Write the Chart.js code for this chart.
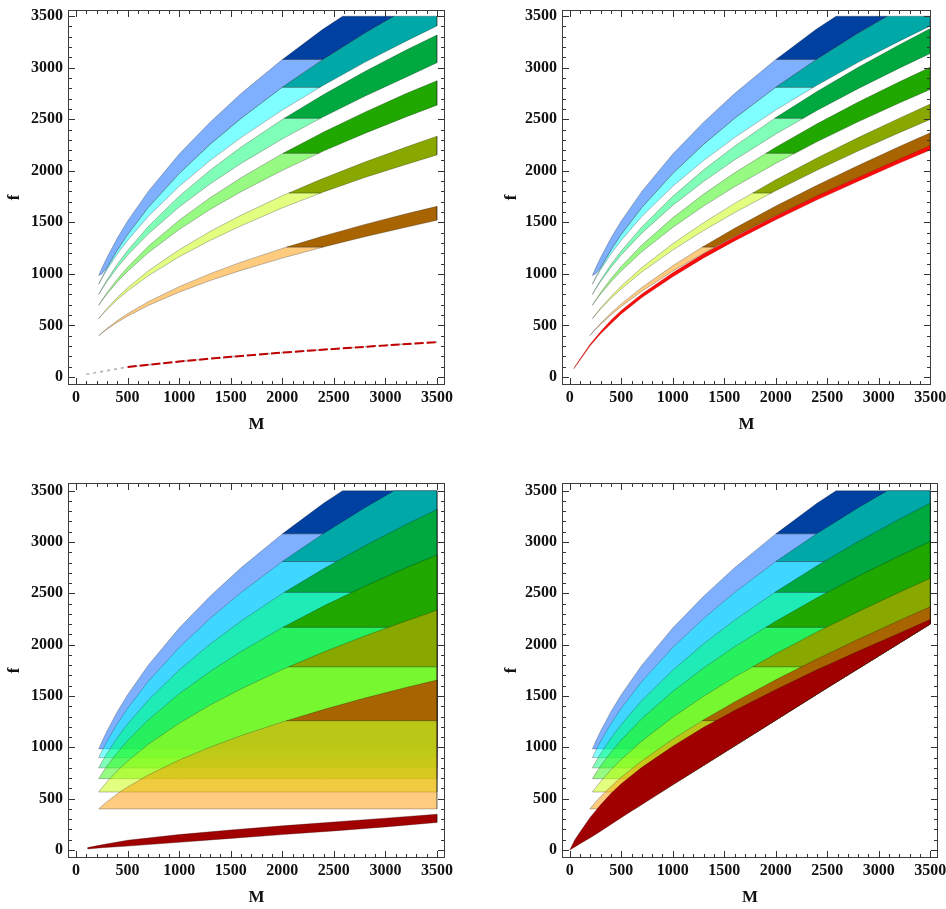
<!DOCTYPE html>
<html><head><meta charset="utf-8">
<script src="https://cdn.jsdelivr.net/npm/chart.js@4.4.1/dist/chart.umd.min.js"></script>
<style>
html,body{margin:0;padding:0;background:#fff;overflow:hidden;width:946px;height:909px;position:relative;}
canvas{position:absolute;}
</style>
</head><body>
<script>
// ================= DATA =================
const majorTicks = [0, 500, 1000, 1500, 2000, 2500, 3000, 3500];
const tickLabels = ['0', '500', '1000', '1500', '2000', '2500', '3000', '3500'];
const fCap = 3500;   // upper f limit of the plotted regions
const mMax = 3500;   // upper M limit of the plotted regions
// band order: blue, cyan, light green, green, yellow, orange
const bandCuts = [3080, 2810, 2510, 2170, 1785, 1260];

// shared by all four panels
const blueUpper = [[220,985],[250,1054],[300,1159],[400,1347],[500,1513],[700,1800],[1000,2162],[1300,2472],[1600,2749],[2000,3079],[2400,3378],[2585,3500]];
const blueLower = [[220,985],[250,1000],[300,1060],[400,1230],[500,1381],[700,1643],[1000,1973],[1300,2256],[1600,2508],[2000,2810],[2400,3083],[2800,3334],[3085,3500]];
const cyanUpper = [[220,900],[250,963],[300,1059],[400,1230],[500,1381],[700,1643],[1000,1973],[1300,2256],[1600,2508],[2000,2810],[2400,3083],[2800,3334],[3085,3500]];
const cyanLower = [[220,900],[250,955],[300,1041],[400,1192],[500,1325],[700,1557],[1000,1849],[1300,2099],[1600,2322],[2000,2589],[2400,2830],[2800,3052],[3200,3258],[3500,3405]];

// left panels
const lgreenUpperL = [[220,800],[250,856],[300,941],[400,1094],[500,1228],[700,1460],[1000,1754],[1300,2006],[1600,2230],[2000,2498],[2400,2740],[2800,2963],[3200,3171],[3500,3318]];
const lgreenLowerL = [[220,800],[250,849],[300,926],[400,1061],[500,1180],[700,1387],[1000,1648],[1300,1872],[1600,2071],[2000,2309],[2400,2525],[2800,2723],[3200,2908],[3500,3048]];
const greenUpperL = [[220,695],[250,743],[300,818],[400,949],[500,1065],[700,1267],[1000,1521],[1300,1739],[1600,1933],[2000,2166],[2400,2376],[2800,2569],[3200,2749],[3500,2874]];
const greenLowerL = [[220,695],[250,738],[300,804],[400,921],[500,1025],[700,1204],[1000,1430],[1300,1625],[1600,1797],[2000,2004],[2400,2191],[2800,2363],[3200,2523],[3500,2637]];
const yellowUpperL = [[220,565],[250,604],[300,664],[400,771],[500,865],[700,1029],[1000,1234],[1300,1412],[1600,1569],[2000,1758],[2400,1928],[2800,2085],[3200,2230],[3500,2336]];
const yellowLowerL = [[220,565],[250,600],[300,654],[400,750],[500,834],[700,981],[1000,1166],[1300,1325],[1600,1466],[2000,1640],[2400,1795],[2800,1935],[3200,2062],[3500,2153]];
const orangeUpperL = [[220,400],[250,428],[300,471],[400,547],[500,613],[700,730],[1000,876],[1300,1002],[1600,1114],[2000,1247],[2400,1368],[2800,1480],[3200,1583],[3500,1655]];
const orangeLowerL = [[220,400],[250,425],[300,463],[400,530],[500,590],[700,693],[1000,823],[1300,935],[1600,1034],[2000,1153],[2400,1261],[2800,1360],[3200,1452],[3500,1520]];
const redLineTL = [[100,27],[250,52],[500,97],[1000,150],[1500,196],[2000,236],[2500,272],[3000,306],[3500,338]];
const redUpperBL = [[113,24],[250,50],[500,95],[1000,150],[1500,195],[2000,235],[2500,272],[3000,310],[3500,348]];
const redLowerBL = [[113,10],[250,22],[500,38],[1000,75],[1500,113],[2000,150],[2500,186],[3000,225],[3500,268]];

// right panels
const lgreenUpperR = [[220,800],[250,855],[300,939],[400,1090],[500,1223],[700,1456],[1000,1752],[1300,2009],[1600,2239],[2000,2516],[2400,2769],[2800,3004],[3200,3223],[3500,3380]];
const lgreenLowerR = [[220,800],[250,850],[300,926],[400,1063],[500,1184],[700,1395],[1000,1664],[1300,1896],[1600,2105],[2000,2356],[2400,2585],[2800,2797],[3200,2996],[3500,3138]];
const greenUpperR = [[220,695],[250,744],[300,819],[400,953],[500,1072],[700,1280],[1000,1544],[1300,1774],[1600,1980],[2000,2229],[2400,2456],[2800,2667],[3200,2864],[3500,3005]];
const greenLowerR = [[220,695],[250,738],[300,804],[400,923],[500,1029],[700,1214],[1000,1451],[1300,1658],[1600,1845],[2000,2072],[2400,2281],[2800,2475],[3200,2658],[3500,2789]];
const yellowUpperR = [[220,565],[250,605],[300,668],[400,781],[500,882],[700,1061],[1000,1293],[1300,1497],[1600,1684],[2000,1912],[2400,2124],[2800,2322],[3200,2511],[3500,2647]];
const yellowLowerR = [[220,565],[250,602],[300,659],[400,762],[500,854],[700,1018],[1000,1231],[1300,1421],[1600,1594],[2000,1807],[2400,2005],[2800,2192],[3200,2370],[3500,2498]];
const orangeUpperR = [[195,400],[220,431],[250,466],[300,520],[400,619],[500,709],[700,869],[1000,1079],[1300,1268],[1600,1442],[2000,1658],[2400,1860],[2800,2052],[3200,2236],[3500,2369]];
const orangeLowerR = [[195,400],[220,428],[250,460],[300,510],[400,601],[500,683],[700,831],[1000,1026],[1300,1201],[1600,1363],[2000,1565],[2400,1754],[2800,1934],[3200,2107],[3500,2233]];
const redUpperR = [[0,0],[50,100],[100,175],[200,320],[300,440],[400,550],[500,645],[700,805],[1000,1010],[1300,1195],[1600,1358],[2000,1562],[2400,1755],[2800,1936],[3200,2112],[3500,2245]];
const redLowerTR = [[40,80],[100,165],[200,305],[300,420],[500,612],[700,770],[1000,972],[1300,1155],[1600,1320],[2000,1525],[2400,1718],[2800,1899],[3200,2075],[3500,2203]];
const redLowerBR = [[0,0],[250,150],[500,315],[1000,635],[1500,950],[2000,1265],[2500,1580],[3000,1890],[3500,2201]];

// ================= STYLE =================
const lightColors = ['rgba(0,97,255,0.5)','rgba(0,255,255,0.5)','rgba(0,255,112,0.5)','rgba(48,245,8,0.5)','rgba(200,255,0,0.5)','rgba(255,152,0,0.5)'];
const darkColors = ['#0040a0','#00a8a8','#00a840','#20a800','#88a800','#a86400'];
const lightEdge = 'rgba(50,50,50,0.45)';
const darkEdge = 'rgba(0,0,0,0.35)';
const tickFont = {family: "'Liberation Serif', 'Times New Roman', serif", weight: 'bold', size: 16};
const titleFont = {family: "'Liberation Serif', 'Times New Roman', serif", weight: 'bold', size: 17};

// ================= GEOMETRY HELPERS =================
function interpAt(pts, x) {
  const n = pts.length;
  if (x <= pts[0][0]) return pts[0][1];
  if (x >= pts[n - 1][0]) return pts[n - 1][1];
  for (let i = 1; i < n; i++) {
    if (x <= pts[i][0]) {
      const [x0, y0] = pts[i - 1], [x1, y1] = pts[i];
      return y0 + (y1 - y0) * (x - x0) / (x1 - x0);
    }
  }
  return pts[n - 1][1];
}
const evalB = (bnd, x) => typeof bnd === 'number' ? bnd : interpAt(bnd, x);
// closed polygon of the region  max(los) < f < min(his)
function fillBetween(los, his) {
  const polys = [...los, ...his].filter(b => typeof b !== 'number');
  const a = Math.max(...polys.map(p => p[0][0]));
  const b = mMax;
  let xs = Array.from(new Set([a, b, ...polys.flatMap(p => p.map(q => q[0]))]))
    .filter(x => x >= a && x <= b).sort((p, q) => p - q);
  const insertZeros = f => {
    const out = [xs[0]];
    for (let i = 1; i < xs.length; i++) {
      const x0 = xs[i - 1], x1 = xs[i], f0 = f(x0), f1 = f(x1);
      if ((f0 < 0 && f1 > 0) || (f0 > 0 && f1 < 0)) out.push(x0 + (x1 - x0) * f0 / (f0 - f1));
      out.push(x1);
    }
    xs = out;
  };
  for (const set of [los, his])
    for (let i = 0; i < set.length; i++)
      for (let j = i + 1; j < set.length; j++)
        insertZeros(x => evalB(set[i], x) - evalB(set[j], x));
  const L = x => Math.max(...los.map(l => evalB(l, x)));
  const H = x => Math.min(...his.map(h => evalB(h, x)));
  insertZeros(x => H(x) - L(x));
  const eps = 1e-6;
  let i0 = xs.findIndex(x => H(x) - L(x) > eps);
  if (i0 < 0) return [];
  let i1 = xs.length - 1;
  while (H(xs[i1]) - L(xs[i1]) <= eps) i1--;
  i0 = Math.max(0, i0 - 1);
  i1 = Math.min(xs.length - 1, i1 + 1);
  const seg = xs.slice(i0, i1 + 1);
  const top = seg.map(x => ({x, y: H(x)}));
  const bottom = seg.slice().reverse().map(x => ({x, y: L(x)}));
  return top.concat(bottom, [top[0]]);
}
function regionDs(poly, fillColor, edge) {
  return {data: poly, fill: 'shape', backgroundColor: fillColor, borderColor: edge, borderWidth: 0.7,
          borderJoinStyle: 'round', pointRadius: 0, tension: 0};
}
function lineDs(pts, color, width, dash) {
  return {data: pts.map(([x, y]) => ({x, y})), fill: false, borderColor: color, borderWidth: width,
          borderDash: dash, pointRadius: 0, tension: 0};
}
// mode 'band': between lower and upper curves; mode 'floor': from the band's starting level up to the upper curve
function bandDatasets(bands, mode, floorCurve) {
  const ds = [];
  const extra = floorCurve ? [floorCurve] : [];
  bands.forEach((b, k) => {
    const lo = mode === 'band' ? b.L : b.U[0][1];
    ds.push(regionDs(fillBetween([lo, ...extra], [b.U, bandCuts[k]]), lightColors[k], lightEdge));
  });
  bands.forEach((b, k) => {
    const los = mode === 'band' ? [b.L, bandCuts[k]] : [bandCuts[k]];
    ds.push(regionDs(fillBetween([...los, ...extra], [b.U, fCap]), darkColors[k], darkEdge));
  });
  return ds;
}

const bandsLeft = [
  {U: blueUpper, L: blueLower}, {U: cyanUpper, L: cyanLower},
  {U: lgreenUpperL, L: lgreenLowerL}, {U: greenUpperL, L: greenLowerL},
  {U: yellowUpperL, L: yellowLowerL}, {U: orangeUpperL, L: orangeLowerL}];
const bandsRight = [
  {U: blueUpper, L: blueLower}, {U: cyanUpper, L: cyanLower},
  {U: lgreenUpperR, L: lgreenLowerR}, {U: greenUpperR, L: greenLowerR},
  {U: yellowUpperR, L: yellowLowerR}, {U: orangeUpperR, L: orangeLowerR}];

// ================= FRAME / TICKS PLUGIN =================
const minorTicks = [];
for (let i = 0; i < majorTicks.length - 1; i++) {
  const step = (majorTicks[i + 1] - majorTicks[i]) / 5;
  for (let j = 0; j < 5; j++) minorTicks.push(majorTicks[i] + j * step);
}
minorTicks.push(majorTicks[majorTicks.length - 1]);

const framePlugin = {
  id: 'frameTicks',
  afterDatasetsDraw(chart) {
    const {ctx, chartArea: a, scales: {x, y}} = chart;
    ctx.save();
    ctx.strokeStyle = '#333';
    ctx.lineWidth = 1;
    ctx.beginPath();
    for (const v of minorTicks) {
      const len = majorTicks.includes(v) ? 7 : 4;
      const px = Math.round(x.getPixelForValue(v)) + 0.5;
      ctx.moveTo(px, a.bottom); ctx.lineTo(px, a.bottom - len);
      ctx.moveTo(px, a.top); ctx.lineTo(px, a.top + len);
      const py = Math.round(y.getPixelForValue(v)) + 0.5;
      ctx.moveTo(a.left, py); ctx.lineTo(a.left + len, py);
      ctx.moveTo(a.right, py); ctx.lineTo(a.right - len, py);
    }
    ctx.stroke();
    ctx.strokeStyle = '#3c3c3c';
    ctx.strokeRect(a.left + 0.5, a.top + 0.5, a.right - a.left - 1, a.bottom - a.top - 1);
    ctx.restore();
  }
};

function makePanel(p, datasets) {
  datasets.forEach((d, i) => { d.order = datasets.length - i; });
  const cv = document.createElement('canvas');
  const padL = 70, padT = 20, padR = 30, axH = 55;
  cv.width = (p.R - p.L) + padL + padR;
  cv.height = (p.B - p.T) + padT + axH;
  cv.style.left = (p.L - padL) + 'px';
  cv.style.top = (p.T - padT) + 'px';
  document.body.appendChild(cv);
  new Chart(cv.getContext('2d'), {
    type: 'line',
    data: {datasets},
    options: {
      responsive: false, animation: false, events: [],
      layout: {padding: {left: 0, top: padT, right: padR, bottom: 0}},
      plugins: {legend: {display: false}, tooltip: {enabled: false}},
      scales: {
        x: {
          type: 'linear', min: p.xmin, max: p.xmax,
          afterFit: s => { s.height = axH; s.paddingLeft = 0; s.paddingRight = 0; },
          afterBuildTicks: s => { s.ticks = majorTicks.map(v => ({value: v})); },
          grid: {display: false, drawTicks: false}, border: {display: false},
          ticks: {padding: 3, font: tickFont, color: '#111', maxRotation: 0, autoSkip: false,
                  callback: v => tickLabels[majorTicks.indexOf(v)]},
          title: {display: true, text: 'M', font: titleFont, color: '#111', padding: {top: 0, bottom: 4.8}}
        },
        y: {
          type: 'linear', min: p.ymin, max: p.ymax,
          afterFit: s => { s.width = padL; s.paddingTop = 0; s.paddingBottom = 0; },
          afterBuildTicks: s => { s.ticks = majorTicks.map(v => ({value: v})); },
          grid: {display: false, drawTicks: false}, border: {display: false},
          ticks: {padding: 5, font: tickFont, color: '#111', autoSkip: false,
                  callback: v => tickLabels[majorTicks.indexOf(v)]},
          title: {display: true, text: 'f', font: titleFont, color: '#111', padding: {top: p.fPad, bottom: 0}}
        }
      }
    },
    plugins: [framePlugin]
  });
}

// ================= PANELS =================
// top-left
const ds1 = bandDatasets(bandsLeft, 'band');
ds1.push(lineDs(redLineTL, 'rgba(165,165,165,0.85)', 1.6, [3, 4]));
ds1.push(lineDs(redLineTL.filter(p => p[0] >= 500), '#c00000', 2, [9, 3]));
makePanel({L: 68, R: 445, T: 10, B: 385, xmin: -78, xmax: 3578, ymin: -78, ymax: 3560, fPad: 6.8}, ds1);

// top-right
const ds2 = bandDatasets(bandsRight, 'band');
ds2.push(regionDs(fillBetween([redLowerTR], [redUpperR]), '#ff0a0a', 'rgba(150,0,0,0.5)'));
makePanel({L: 562, R: 931, T: 10, B: 385, xmin: -75, xmax: 3507, ymin: -78, ymax: 3560, fPad: 9.8}, ds2);

// bottom-left
const ds3 = bandDatasets(bandsLeft, 'floor');
ds3.push(regionDs(fillBetween([redLowerBL], [redUpperBL]), '#a00000', 'rgba(60,0,0,0.5)'));
makePanel({L: 68, R: 445, T: 483, B: 858, xmin: -78, xmax: 3578, ymin: -78, ymax: 3575, fPad: 6.8}, ds3);

// bottom-right (all regions lie above the red region's lower edge)
const ds4 = bandDatasets(bandsRight, 'floor', redLowerBR);
ds4.push(regionDs(fillBetween([redLowerBR], [redUpperR]), '#a00000', 'rgba(60,0,0,0.5)'));
makePanel({L: 562, R: 938, T: 483, B: 858, xmin: -75, xmax: 3575, ymin: -78, ymax: 3575, fPad: 9.8}, ds4);
</script>
</body></html>
